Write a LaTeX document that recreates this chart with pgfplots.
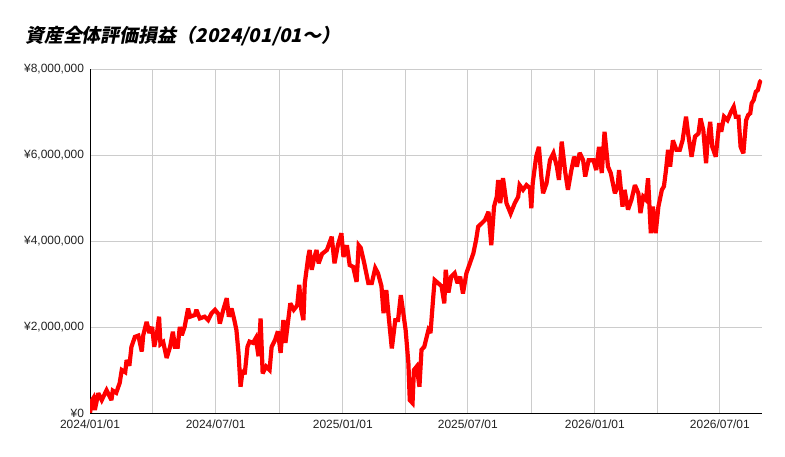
\documentclass[border=0pt]{standalone}
\usepackage{pgfplots}
\pgfplotsset{compat=1.18}
\usepackage{fontspec}
\setmainfont{Liberation Sans}
\newfontfamily\cjk[FakeSlant=0.2]{Noto Sans CJK JP}
\definecolor{gridgray}{HTML}{CCCCCC}
\definecolor{labelgray}{HTML}{222222}

% days since 2024/01/01, value in millions of yen
\pgfplotstableread{
day val
0 0.0
3 0.3
5 0.35
7 0.07
12 0.46
17 0.3
24 0.53
31 0.3
33 0.52
38 0.47
43 0.7
46 1.0
51 0.95
53 1.23
57 1.1
60 1.54
65 1.77
70 1.8
75 1.43
77 1.8
82 2.12
86 1.86
90 2.0
93 1.54
97 1.86
100 2.24
102 1.6
106 1.65
111 1.28
116 1.54
120 1.89
123 1.54
127 1.54
130 2.0
133 1.81
137 2.0
142 2.43
145 2.24
152 2.28
154 2.4
159 2.2
166 2.24
171 2.16
176 2.32
181 2.4
186 2.3
188 2.08
193 2.4
198 2.67
201 2.24
205 2.43
209 2.16
212 1.93
215 1.4
218 0.61
221 1.0
224 0.9
228 1.54
231 1.66
236 1.63
240 1.74
244 1.32
247 2.2
250 0.92
255 1.08
260 1.0
263 1.54
268 1.7
272 1.9
276 1.4
280 2.16
283 1.63
287 2.16
290 2.55
295 2.4
300 2.5
303 2.98
306 2.4
309 2.16
311 3.02
316 3.63
318 3.79
321 3.33
325 3.63
328 3.79
331 3.48
336 3.7
343 3.79
350 4.1
354 3.48
359 3.91
364 4.18
367 3.63
372 3.9
376 3.44
381 3.4
386 3.05
389 3.9
392 3.84
397 3.49
403 3.02
408 3.02
413 3.37
417 3.25
422 2.95
425 2.32
429 2.86
432 2.32
437 1.5
442 2.16
446 2.16
450 2.74
453 2.4
457 1.93
461 1.16
463 0.3
467 0.23
469 1.0
473 1.08
477 0.61
480 1.47
484 1.54
490 1.93
493 1.86
497 2.7
499 3.09
504 3.02
509 2.95
513 2.55
515 3.33
519 2.8
523 3.17
528 3.25
532 3.02
536 3.17
540 2.78
545 3.25
550 3.48
555 3.71
559 4.02
562 4.33
567 4.41
572 4.49
577 4.68
581 3.9
585 4.8
589 5.03
591 5.42
594 4.88
598 5.46
603 4.88
609 4.64
615 4.88
620 5.03
622 5.3
627 5.19
632 5.3
637 5.23
639 4.76
641 5.34
646 5.96
650 6.19
653 5.58
656 5.11
661 5.34
666 5.88
671 6.04
676 5.73
679 5.42
683 6.31
688 5.61
692 5.19
697 5.65
701 5.96
705 5.73
709 6.05
714 5.88
717 5.5
722 5.88
729 5.88
733 5.65
737 6.19
741 5.58
745 6.54
750 5.73
754 5.58
760 5.11
764 5.27
766 5.65
771 4.8
774 5.19
779 4.73
784 4.96
789 5.3
794 5.11
797 4.65
801 5.03
805 4.96
808 5.46
812 4.18
815 4.8
819 4.18
823 4.8
828 5.19
831 5.27
834 5.65
837 6.12
840 5.73
844 6.34
849 6.12
854 6.12
858 6.34
863 6.89
866 6.5
871 5.96
876 6.43
881 6.5
884 6.85
888 6.58
892 5.81
894 6.27
898 6.77
901 6.19
906 5.96
911 6.74
914 6.54
918 6.89
923 6.81
928 7.0
932 7.12
935 6.89
939 6.89
942 6.19
946 6.04
950 6.81
953 6.93
956 6.97
958 7.2
961 7.28
964 7.47
967 7.51
970 7.7
972 7.74
}\pnl

\begin{document}
\begin{tikzpicture}
\useasboundingbox (0,0) rectangle (785bp,457bp);
\node[anchor=base west, inner sep=0pt, font=\cjk\bfseries\fontsize{19}{22}\selectfont]
  at (25bp,414bp) {資産全体評価損益（2024/01/01～）};
\begin{axis}[
    at={(90bp,44bp)}, anchor=south west,
    scale only axis,
    width=672bp, height=344bp,
    xmin=0, xmax=973,
    ymin=0, ymax=8,
    axis x line*=bottom,
    axis y line*=left,
    axis line style={black, line width=0.9bp, -},
    xtick={0,182,366,547,731,912},
    xticklabels={2024/01/01,2024/07/01,2025/01/01,2025/07/01,2026/01/01,2026/07/01},
    minor xtick={91,274,456,639,821},
    ytick={0,2,4,6,8},
    yticklabels={¥0,{¥2,000,000},{¥4,000,000},{¥6,000,000},{¥8,000,000}},
    xmajorgrids, xminorgrids, ymajorgrids,
    grid style={gridgray, line width=0.8bp},
    minor grid style={gridgray, line width=0.8bp},
    major tick length=0pt, minor tick length=0pt,
    tick label style={font=\fontsize{12}{14}\selectfont, text=labelgray},
    yticklabel style={xshift=-2.5bp},
    xticklabel style={yshift=-3bp},
]
\addplot[red, line width=4.2bp, line join=miter, miter limit=3] table[x=day, y=val] {\pnl};
\end{axis}
\end{tikzpicture}
\end{document}
